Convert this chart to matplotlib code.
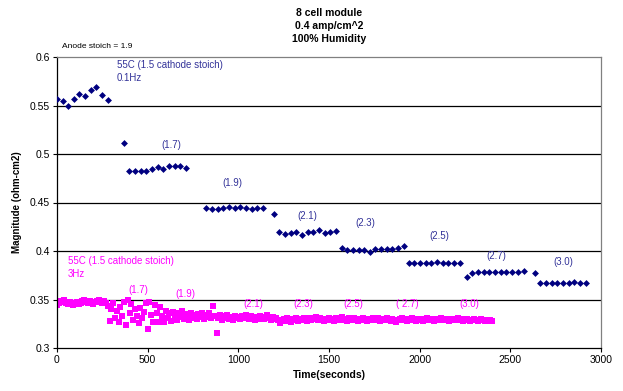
import matplotlib
matplotlib.use("Agg")
import matplotlib.pyplot as plt

plt.rcParams['font.family'] = ['Liberation Sans', 'DejaVu Sans']

# ---- Data: 0.1 Hz series (blue diamonds) ----
blue_t = [0, 31, 62, 93, 124, 155, 186, 217, 249, 280,
          370,
          399, 430, 461, 492, 524, 555, 586, 617, 649, 680, 711,
          822, 855, 886, 917, 949, 980, 1011, 1042, 1074, 1105, 1136,
          1197,
          1226, 1258, 1289, 1320, 1351, 1382, 1413, 1445, 1476, 1507, 1539,
          1570, 1601, 1632, 1663, 1694, 1725, 1756, 1787, 1818, 1849, 1880, 1912,
          1940, 1971, 2002, 2033, 2064, 2097, 2128, 2159, 2190, 2222,
          2261,
          2290, 2322, 2353, 2384, 2415, 2447, 2478, 2509, 2540, 2574,
          2634,
          2665, 2697, 2728, 2759, 2790, 2822, 2853, 2884, 2915]
blue_v = [0.557, 0.555, 0.549, 0.557, 0.562, 0.560, 0.566, 0.569, 0.561, 0.556,
          0.511,
          0.4828, 0.4828, 0.4825, 0.4822, 0.4845, 0.4869, 0.4842, 0.4876, 0.4879, 0.4876, 0.4853,
          0.4446, 0.4430, 0.4433, 0.4446, 0.4457, 0.4440, 0.4457, 0.4446, 0.4433, 0.4443, 0.4446,
          0.4378,
          0.4196, 0.4179, 0.4183, 0.4196, 0.4168, 0.4196, 0.4199, 0.4213, 0.4183, 0.4193, 0.4206,
          0.4031, 0.4007, 0.4007, 0.4007, 0.4007, 0.3993, 0.4017, 0.4017, 0.4017, 0.4020, 0.4027, 0.4051,
          0.3878, 0.3876, 0.3878, 0.3878, 0.3881, 0.3884, 0.3878, 0.3878, 0.3881, 0.3878,
          0.3735,
          0.3772, 0.3779, 0.3779, 0.3779, 0.3779, 0.3779, 0.3779, 0.3779, 0.3779, 0.3789,
          0.3772,
          0.3670, 0.3670, 0.3670, 0.3670, 0.3670, 0.3670, 0.3677, 0.3670, 0.3670]

# ---- Data: 3 Hz series (magenta squares), one reading every 10 s ----
mag_v = [
    0.344, 0.346, 0.348, 0.347, 0.349, 0.346, 0.345, 0.347, 0.345, 0.344,
    0.346, 0.347, 0.345, 0.346, 0.348, 0.349, 0.347, 0.346, 0.348, 0.346,
    0.345, 0.347, 0.348, 0.349, 0.347, 0.346, 0.348, 0.346, 0.343, 0.328,
    0.340, 0.346, 0.331, 0.338, 0.327, 0.342, 0.333, 0.347, 0.324, 0.350,
    0.336, 0.345, 0.329, 0.340, 0.333, 0.326, 0.341, 0.331, 0.337, 0.346,
    0.320, 0.347, 0.334, 0.327, 0.344, 0.336, 0.327, 0.342, 0.333, 0.327,
    0.338, 0.331, 0.336, 0.328, 0.337, 0.333, 0.329, 0.336, 0.332, 0.338,
    0.330, 0.335, 0.333, 0.329, 0.336, 0.331, 0.334, 0.330, 0.335, 0.332,
    0.336, 0.330, 0.334, 0.332, 0.336, 0.331, 0.343, 0.333, 0.315, 0.331,
    0.334, 0.329, 0.333, 0.331, 0.334, 0.330, 0.332, 0.329, 0.333, 0.331,
    0.332, 0.330, 0.333, 0.331, 0.334, 0.332, 0.330, 0.333, 0.331, 0.329,
    0.332, 0.330, 0.333, 0.331, 0.330, 0.332, 0.334, 0.331, 0.329, 0.332,
    0.330, 0.331, 0.329, 0.326, 0.329, 0.330, 0.328, 0.331, 0.329, 0.327,
    0.330, 0.329, 0.331, 0.328, 0.330, 0.329, 0.331, 0.330, 0.328, 0.331,
    0.329, 0.331, 0.330, 0.332, 0.329, 0.331, 0.330, 0.328, 0.330, 0.329,
    0.331, 0.329, 0.330, 0.328, 0.331, 0.329, 0.330, 0.332, 0.329, 0.330,
    0.328, 0.331, 0.329, 0.330, 0.331, 0.329, 0.328, 0.330, 0.329, 0.331,
    0.330, 0.328, 0.330, 0.329, 0.331, 0.330, 0.329, 0.331, 0.328, 0.330,
    0.329, 0.330, 0.331, 0.329, 0.328, 0.330, 0.329, 0.327, 0.329, 0.330,
    0.331, 0.329, 0.330, 0.328, 0.330, 0.329, 0.331, 0.330, 0.328, 0.330,
    0.329, 0.330, 0.328, 0.329, 0.331, 0.330, 0.329, 0.330, 0.328, 0.329,
    0.330, 0.329, 0.331, 0.330, 0.329, 0.330, 0.328, 0.329, 0.330, 0.329,
    0.330, 0.331, 0.329, 0.330, 0.328, 0.329, 0.330, 0.329, 0.328, 0.329,
    0.330, 0.329, 0.328, 0.329, 0.330, 0.329, 0.328, 0.329, 0.328, 0.329,
    0.328,
]
mag_t = [10 * i for i in range(len(mag_v))]

# ---- Annotations ----
blue_labels = ["(1.7)", "(1.9)", "(2.1)", "(2.3)", "(2.5)", "(2.7)", "(3.0)"]
blue_label_t = [632, 969, 1383, 1703, 2107, 2421, 2793]
blue_label_v = [0.5093, 0.4698, 0.4360, 0.4293, 0.4155, 0.3952, 0.3887]

mag_labels = ["(1.7)", "(1.9)", "(2.1)", "(2.3)", "(2.5)", "( 2.7)", "(3.0)"]
mag_label_t = [450, 708, 1083, 1359, 1636, 1930, 2272]
mag_label_v = [0.3598, 0.3557, 0.3454, 0.3454, 0.3454, 0.3454, 0.3454]

x_ticks = [0, 500, 1000, 1500, 2000, 2500, 3000]
y_ticks = [0.3, 0.35, 0.4, 0.45, 0.5, 0.55, 0.6]
y_tick_labels = ["0.3", "0.35", "0.4", "0.45", "0.5", "0.55", "0.6"]

BLUE = "#000080"
BLUE_TXT = "#333399"
MAG = "#FF00FF"

fig = plt.figure(figsize=(6.23, 3.91), dpi=100)
ax = fig.add_axes([57 / 623, 1 - 348 / 391, (601 - 57) / 623, (348 - 57) / 391])

for y in y_ticks[1:-1]:
    ax.axhline(y, color="#000000", linewidth=0.9, zorder=1)

ax.plot(mag_t, mag_v, linestyle="none", marker="s", markersize=4.6,
        color=MAG, markeredgewidth=0, zorder=2)
ax.plot(blue_t, blue_v, linestyle="none", marker="D", markersize=3.5,
        color=BLUE, markeredgewidth=0, zorder=3)

ax.set_xlim(0, 3000)
ax.set_ylim(0.3, 0.6)
ax.set_xticks(x_ticks)
ax.set_yticks(y_ticks)
ax.set_yticklabels(y_tick_labels)
ax.tick_params(axis="both", labelsize=7.5, length=3, width=0.8, direction="out", pad=2)

for s in ["left", "bottom"]:
    ax.spines[s].set_color("black")
    ax.spines[s].set_linewidth(0.9)
for s in ["top", "right"]:
    ax.spines[s].set_color("#808080")
    ax.spines[s].set_linewidth(0.9)

ax.set_xlabel("Time(seconds)", fontsize=7.5, fontweight="bold", labelpad=4)
ax.set_ylabel("Magnitude (ohm-cm2)", fontsize=7, fontweight="bold", labelpad=6)

ax.text(331, 0.585, "55C (1.5 cathode stoich)\n0.1Hz", color=BLUE_TXT, fontsize=7,
        ha="left", va="center", linespacing=1.3)
ax.text(61, 0.383, "55C (1.5 cathode stoich)\n3Hz", color=MAG, fontsize=7,
        ha="left", va="center", linespacing=1.3)

for lab, t, v in zip(blue_labels, blue_label_t, blue_label_v):
    ax.text(t, v, lab, color=BLUE_TXT, fontsize=7, ha="center", va="center")
for lab, t, v in zip(mag_labels, mag_label_t, mag_label_v):
    ax.text(t, v, lab, color=MAG, fontsize=7, ha="center", va="center")

fig.text(329 / 623, 1 - 26 / 391, "8 cell module\n0.4 amp/cm^2\n100% Humidity",
         ha="center", va="center", fontsize=7.5, fontweight="bold", linespacing=1.35)
fig.text(62 / 623, 1 - 46 / 391, "Anode stoich = 1.9", ha="left", va="center", fontsize=6)

fig.savefig("out.png", dpi=100)
